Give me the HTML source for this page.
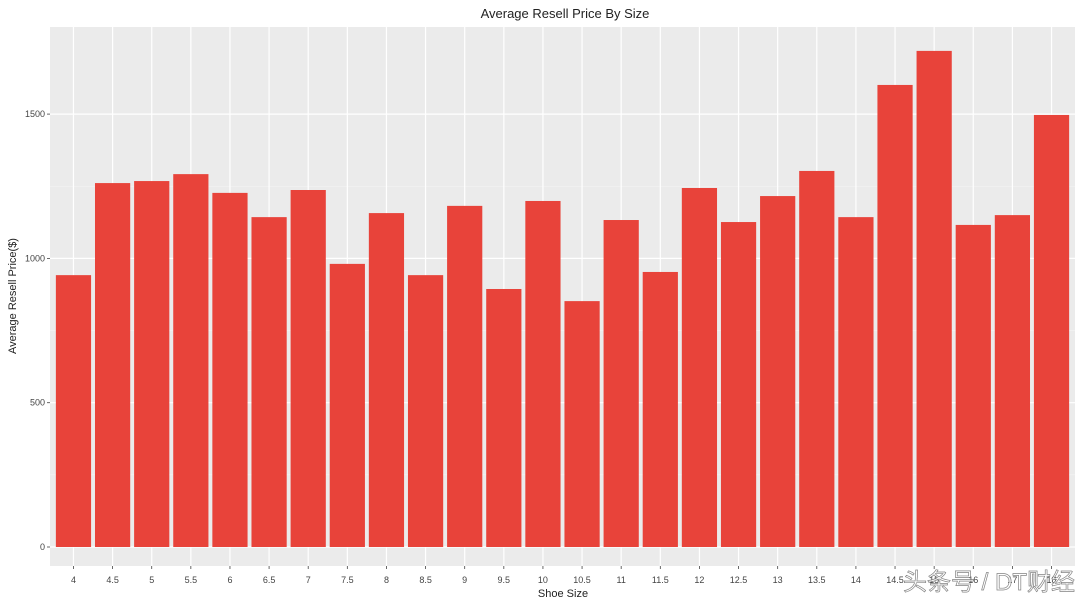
<!DOCTYPE html>
<html><head><meta charset="utf-8"><style>
body{margin:0;background:#fff;font-family:"Liberation Sans","Noto Sans CJK SC",sans-serif}
</style></head><body>
<svg id="c" width="1080" height="600" xmlns="http://www.w3.org/2000/svg">
<rect x="0" y="0" width="1080" height="600" fill="#fff"/>
<text x="565" y="18" text-anchor="middle" font-size="13" fill="#222">Average Resell Price By Size</text>
<rect x="50" y="27" width="1025" height="539" fill="#ebebeb"/>
<g id="grid"></g><g id="bars"></g><g id="ax"></g>
<text x="563" y="597" text-anchor="middle" font-size="11" fill="#222">Shoe Size</text>
<text transform="translate(16,296) rotate(-90)" text-anchor="middle" font-size="11" fill="#222">Average Resell Price($)</text>
<text x="903" y="590" font-size="24" fill="#fff" stroke="#666" stroke-width="0.7" opacity="0.8">头条号 / DT财经</text>
</svg>
<script>
const categories=["4","4.5","5","5.5","6","6.5","7","7.5","8","8.5","9","9.5","10","10.5","11","11.5","12","12.5","13","13.5","14","14.5","15","16","17","18"];
const values=[942,1261,1268,1292,1227,1143,1237,981,1157,942,1182,894,1199,852,1133,953,1244,1126,1216,1303,1143,1601,1719,1116,1150,1497];
const yTicks=[0,500,1000,1500];
const NS="http://www.w3.org/2000/svg";
const L=50,R=1075;
const step=(R-L)/(categories.length+0.2);
const xc=i=>L+(0.6+i)*step;
const y=v=>547-v*0.2886;
function mk(t,a,p){const e=document.createElementNS(NS,t);for(const k in a)e.setAttribute(k,a[k]);p.appendChild(e);return e;}
const g=document.getElementById('grid'),b=document.getElementById('bars'),ax=document.getElementById('ax');
yTicks.forEach((v,i)=>{
 mk('line',{x1:L,x2:R,y1:y(v),y2:y(v),stroke:'#fff','stroke-width':1.2},g);
 if(i<yTicks.length-1)mk('line',{x1:L,x2:R,y1:y(v+250),y2:y(v+250),stroke:'#f5f5f5','stroke-width':0.6},g);
 mk('line',{x1:47,x2:50,y1:y(v),y2:y(v),stroke:'#444','stroke-width':0.8},ax);
 const t=mk('text',{x:45,y:y(v)+3,'text-anchor':'end','font-size':9,fill:'#444'},ax);t.textContent=v;
 
 
});
categories.forEach((c,i)=>{
 mk('line',{x1:xc(i),x2:xc(i),y1:27,y2:566,stroke:'#fff','stroke-width':1.2},g);
 const r=mk('rect',{x:xc(i)-step*0.45,width:step*0.9,y:y(values[i]),height:y(0)-y(values[i]),fill:'#e8433a'},b);
 
 
 mk('line',{x1:xc(i),x2:xc(i),y1:566,y2:569,stroke:'#444','stroke-width':0.8},ax);
 const t=mk('text',{x:xc(i),y:583,'text-anchor':'middle','font-size':9,fill:'#444'},ax);t.textContent=c;
 
 
});
</script>
</body></html>
